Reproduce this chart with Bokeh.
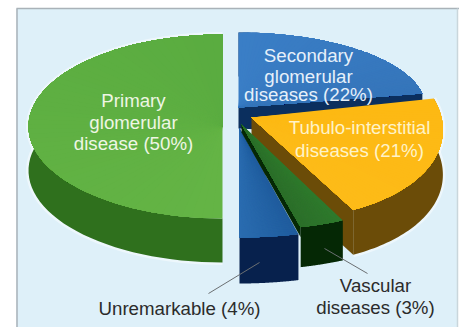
import numpy as np
from bokeh.plotting import figure
from bokeh.models import Range1d
from bokeh.core.properties import value
from bokeh.embed import file_html
from bokeh.resources import INLINE

# Share of each diagnosis, percent, clockwise from twelve o'clock
categories = ["Secondary glomerular diseases", "Tubulo-interstitial diseases",
              "Vascular diseases", "Unremarkable", "Primary glomerular disease"]
shares = [22, 21, 3, 4, 50]

# Per-slice projection: apex x/y, horizontal and vertical radii, shear,
# extrusion depth of the rim, and of the last cut face at its apex and rim ends
projection = {
    "Secondary glomerular diseases": (238, 107, 187, 75, 0, 44, 21, 44),
    "Tubulo-interstitial diseases": (251, 117, 190, 102, 23, 45, 45, 45),
    "Vascular diseases": (241, 124, 238, 106, 0, 40, 8, 10),
    "Unremarkable": (239, 128, 237, 109, 0, 46, 46, 46),
    "Primary glomerular disease": (222, 126, 194, 92, 0, 44, 44, 44),
}
# Top-face colour at the first and last angle of each slice
top_colors = {
    "Secondary glomerular diseases": ("#3a7ec6", "#3575ba"),
    "Tubulo-interstitial diseases": ("#fdb913", "#fdbb18"),
    "Vascular diseases": ("#2f7a2d", "#2c6f2a"),
    "Unremarkable": ("#1f5c9d", "#2a6cb0"),
    "Primary glomerular disease": ("#64b445", "#5aac40"),
}
side_colors = {
    "Secondary glomerular diseases": "#0b2f5e",
    "Tubulo-interstitial diseases": "#6b4c08",
    "Vascular diseases": "#052805",
    "Unremarkable": "#07214d",
    "Primary glomerular disease": "#2f701d",
}
draw_order = ["Primary glomerular disease", "Secondary glomerular diseases",
              "Tubulo-interstitial diseases", "Unremarkable", "Vascular diseases"]

label_lines = [
    (["Primary", "glomerular", "disease (50%)"], 133, [100, 122, 143], "#eef6e4"),
    (["Secondary", "glomerular", "diseases (22%)"], 308, [55, 76, 94], "#e6f0fa"),
    (["Tubulo-interstitial", "diseases (21%)"], 359, [127, 150], "#fff3c8"),
    (["Vascular", "diseases (3%)"], 375, [285, 307], "#2b2b2b"),
    (["Unremarkable (4%)"], 179, [308], "#2b2b2b"),
]
leaders = [([208, 259], [293, 262]), ([324, 367], [248, 273])]

p = figure(width=459, height=327, output_backend="svg", toolbar_location=None,
           x_range=Range1d(0, 459), y_range=Range1d(327, 0),
           min_border=0, outline_line_color=None)
p.axis.visible = False
p.grid.visible = False
p.background_fill_color = "#ffffff"
p.border_fill_color = "#ffffff"

# Panel behind the pie
p.quad(left=[16], right=[457], top=[8], bottom=[327], fill_color="#def0f9",
       line_color=None)
p.line([16.5, 16.5], [327, 8], line_color="#a9b2b8", line_width=1.5)
p.line([16, 459], [8, 8], line_color="#a9b2b8", line_width=1.5)
p.line([457, 457], [8, 327], line_color="#c9d6dc", line_width=1.5)

edges = np.cumsum([0] + shares) * 3.6
spans = {c: (edges[i], edges[i + 1]) for i, c in enumerate(categories)}


def rim(name, n=60):
    cx, cy, rx, ry, shear = projection[name][:5]
    a0, a1 = np.radians(spans[name])
    t = np.linspace(a0, a1, n)
    return cx + rx * np.sin(t) - shear * np.cos(t), cy - ry * np.cos(t)


def blend(pair, f):
    a = [int(pair[0][i:i + 2], 16) for i in (1, 3, 5)]
    b = [int(pair[1][i:i + 2], 16) for i in (1, 3, 5)]
    return "#%02x%02x%02x" % tuple(round(u + (v - u) * f) for u, v in zip(a, b))


# Soft pale rim around the outer edge of the large slices
for name in ("Primary glomerular disease", "Tubulo-interstitial diseases"):
    xs, ys = rim(name)
    depth = projection[name][5]
    p.line(xs, ys, line_color="#ffffff", line_width=5, line_alpha=0.45)
    p.line(xs, ys + depth, line_color="#ffffff", line_width=5, line_alpha=0.45)

for name in draw_order:
    cx, cy, rx, ry, shear, depth, apex_depth, cut_depth = projection[name]
    xs, ys = rim(name)
    color = side_colors[name]
    # Outer wall as a single band, then the cut face at the slice's last angle
    p.patch(np.concatenate([xs, xs[::-1]]), np.concatenate([ys, ys[::-1] + depth]),
            fill_color=color, line_color=None)
    p.patch([cx, xs[-1], xs[-1], cx], [cy, ys[-1], ys[-1] + cut_depth, cy + apex_depth],
            fill_color=color, line_color=None)
    # Top face: overlapping wedges painted in angle order, so no seams show
    for i in range(len(xs) - 1):
        p.patch(np.concatenate([[cx], xs[i:]]), np.concatenate([[cy], ys[i:]]),
                fill_color=blend(top_colors[name], i / (len(xs) - 2)), line_color=None)

for lx, ly in leaders:
    p.line(lx, ly, line_color="#6b6f72", line_width=1)

for lines, x, ys, color in label_lines:
    p.text(x=[x] * len(lines), y=ys, text=lines, text_align="center",
           text_baseline="middle", text_color=color, text_font_size="18.7px",
           text_font=value("Liberation Sans"))

open("out.html", "w").write(file_html(p, INLINE))
